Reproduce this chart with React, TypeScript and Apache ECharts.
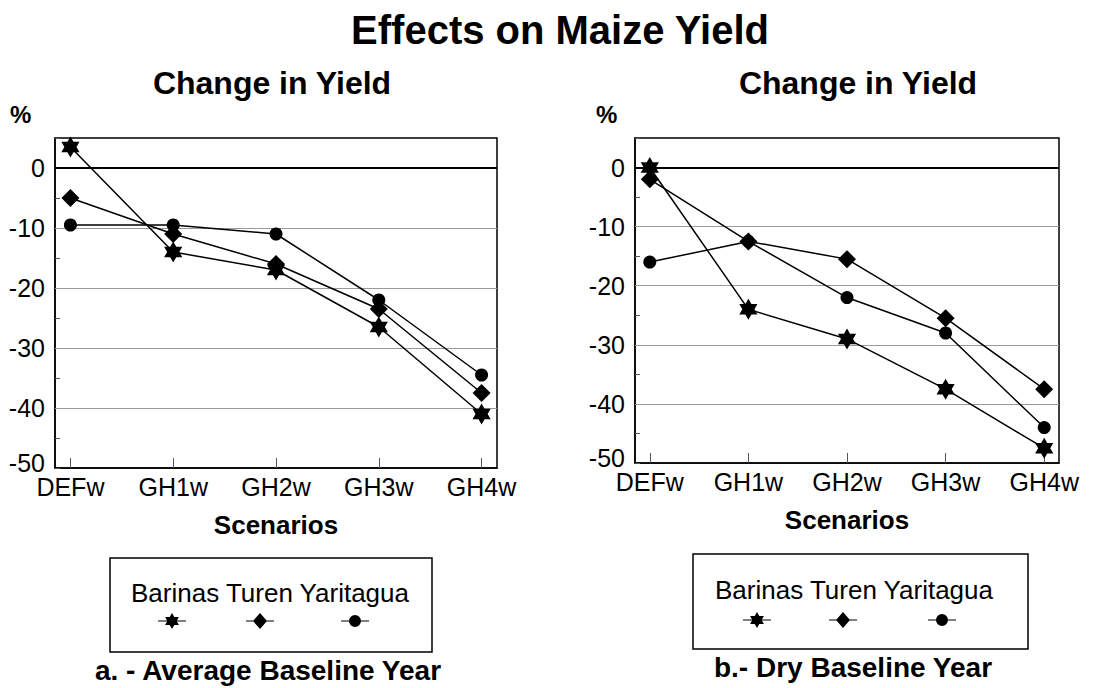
import React, { useEffect, useRef } from "react";
import * as echarts from "echarts";

const categories = ["DEFw", "GH1w", "GH2w", "GH3w", "GH4w"];
const seriesNames = ["Barinas", "Turen", "Yaritagua"];

const avgBarinas = [3.5, -14, -17, -26.5, -41];
const avgTuren = [-5, -11, -16, -23.5, -37.5];
const avgYaritagua = [-9.5, -9.5, -11, -22, -34.5];

const dryBarinas = [0, -24, -29, -37.5, -47.5];
const dryTuren = [-2, -12.5, -15.5, -25.5, -37.5];
const dryYaritagua = [-16, -12.5, -22, -28, -44];

const yTickValues = [-50, -40, -30, -20, -10, 0];
const gridLineValues = [-40, -30, -20, -10];

const FONT = "'Liberation Sans', Arial, Helvetica, sans-serif";
const STAR =
  "path://M10,0 L12.89,5 L18.66,5 L15.77,10 L18.66,15 L12.89,15 L10,20 L7.11,15 L1.34,15 L4.23,10 L1.34,5 L7.11,5 Z";

const symbols: Record<string, any> = {
  Barinas: { symbol: STAR, size: 21 },
  Turen: { symbol: "diamond", size: 18 },
  Yaritagua: { symbol: "circle", size: 13 },
};

// legend icons: short line with the marker in the middle
const legendIcons: Record<string, { icon: string; h: number }> = {
  Barinas: {
    icon:
      "path://M0,7.4 L28,7.4 L28,8.6 L0,8.6 Z M14,0 L16.31,4 L20.93,4 L18.62,8 L20.93,12 L16.31,12 L14,16 L11.69,12 L7.07,12 L9.38,8 L7.07,4 L11.69,4 Z",
    h: 16,
  },
  Turen: {
    icon: "path://M0,7.4 L28,7.4 L28,8.6 L0,8.6 Z M14,0 L21,8 L14,16 L7,8 Z",
    h: 16,
  },
  Yaritagua: {
    icon: "path://M0,5.4 L28,5.4 L28,6.6 L0,6.6 Z M8,6 A6,6 0 1 1 20,6 A6,6 0 1 1 8,6 Z",
    h: 12,
  },
};

function toPairs(vals: number[]) {
  return vals.map((v, i) => [i, v]);
}

function makeAxes(idx: number) {
  const xAxis = {
    type: "value",
    gridIndex: idx,
    min: -0.15,
    max: 4.15,
    name: "Scenarios",
    nameLocation: "middle",
    nameGap: 44,
    nameTextStyle: { fontSize: 26, fontWeight: "bold", color: "#000", fontFamily: FONT },
    axisLine: { show: true, onZero: false, lineStyle: { color: "#000", width: 1.5 } },
    axisTick: {
      show: true,
      inside: true,
      length: 10,
      customValues: [0, 1, 2, 3, 4],
      lineStyle: { color: "#555", width: 1 },
    },
    axisLabel: {
      customValues: [0, 1, 2, 3, 4],
      formatter: (v: number) => categories[Math.round(v)] ?? "",
      fontSize: 25,
      color: "#000",
      fontFamily: FONT,
      margin: 6,
    },
    splitLine: { show: false },
  };
  const yAxis = {
    type: "value",
    gridIndex: idx,
    min: -50,
    max: 5,
    interval: 10,
    axisLine: { show: true, onZero: false, lineStyle: { color: "#000", width: 1.5 } },
    axisTick: { show: true, inside: true, length: 5, lineStyle: { color: "#555" } },
    minorTick: { show: true, splitNumber: 2, length: 5, lineStyle: { color: "#555" } },
    axisLabel: {
      customValues: yTickValues,
      formatter: (v: number) => (v === -50 ? "{low|-50}" : String(v)),
      fontSize: 25,
      color: "#000",
      fontFamily: FONT,
      margin: 10,
      rich: { low: { fontSize: 25, fontFamily: FONT, color: "#000", padding: [0, 0, 10, 0] } },
    },
    splitLine: { show: false },
  };
  return { xAxis, yAxis };
}

function makeSeries(idx: number, data: number[][]) {
  return seriesNames.map((name, k) => {
    const s: any = {
      name,
      type: "line",
      xAxisIndex: idx,
      yAxisIndex: idx,
      data: toPairs(data[k]),
      symbol: symbols[name].symbol,
      symbolSize: symbols[name].size,
      symbolKeepAspect: true,
      itemStyle: { color: "#000" },
      lineStyle: { color: "#000", width: 1.5 },
      z: 5,
    };
    if (k === 0) {
      s.markLine = {
        silent: true,
        symbol: "none",
        label: { show: false },
        z: 2,
        data: [
          ...gridLineValues.map((v) => ({ yAxis: v, lineStyle: { color: "#9a9a9a", width: 1, type: "solid" } })),
          { yAxis: 0, lineStyle: { color: "#000", width: 1.8, type: "solid" } },
        ],
      };
    }
    return s;
  });
}

export default function App() {
  const ref = useRef<HTMLDivElement>(null);
  useEffect(() => {
    if (!ref.current) return;
    const chart = echarts.init(ref.current, undefined, { renderer: "svg" });
    const a0 = makeAxes(0);
    const a1 = makeAxes(1);

    const legendPositions = [
      { x: 172, y: 621 },
      { x: 260, y: 621 },
      { x: 355, y: 621 },
      { x: 757, y: 620 },
      { x: 843, y: 620 },
      { x: 942, y: 620 },
    ];
    const legends = legendPositions.map((p, i) => {
      const name = seriesNames[i % 3];
      const li = legendIcons[name];
      return {
        data: [{ name, icon: li.icon }],
        left: p.x - 14,
        top: p.y - li.h / 2,
        itemWidth: 28,
        itemHeight: li.h,
        itemGap: 0,
        selectedMode: false,
        formatter: () => "",
        textStyle: { fontSize: 1 },
        itemStyle: { color: "#000" },
        padding: 0,
      };
    });

    const option: any = {
      animation: false,
      backgroundColor: "#fff",
      textStyle: { fontFamily: FONT },
      title: [
        {
          text: "Effects on Maize Yield",
          left: "center",
          top: 5,
          textStyle: { fontSize: 40, fontWeight: "bold", color: "#000", fontFamily: FONT },
        },
        {
          text: "Change in Yield",
          left: 267,
          textAlign: "center",
          top: 62,
          textStyle: { fontSize: 32, fontWeight: "bold", color: "#000", fontFamily: FONT },
        },
        {
          text: "Change in Yield",
          left: 853,
          textAlign: "center",
          top: 62,
          textStyle: { fontSize: 32, fontWeight: "bold", color: "#000", fontFamily: FONT },
        },
      ],
      legend: legends,
      grid: [
        { left: 55, top: 138, width: 442, height: 330, show: true, borderColor: "#000", borderWidth: 1.5, backgroundColor: "transparent" },
        { left: 635, top: 138, width: 424, height: 325, show: true, borderColor: "#000", borderWidth: 1.5, backgroundColor: "transparent" },
      ],
      xAxis: [a0.xAxis, a1.xAxis],
      yAxis: [a0.yAxis, a1.yAxis],
      series: [
        ...makeSeries(0, [avgBarinas, avgTuren, avgYaritagua]),
        ...makeSeries(1, [dryBarinas, dryTuren, dryYaritagua]),
      ],
      graphic: [
        { type: "text", x: 10, y: 102, style: { text: "%", fontSize: 24, fontWeight: "bold", fill: "#000", fontFamily: FONT } },
        { type: "text", x: 596, y: 102, style: { text: "%", fontSize: 24, fontWeight: "bold", fill: "#000", fontFamily: FONT } },
        { type: "rect", shape: { x: 110, y: 558, width: 322, height: 94 }, style: { fill: "none", stroke: "#000", lineWidth: 1.5 } },
        { type: "rect", shape: { x: 693, y: 554, width: 335, height: 95 }, style: { fill: "none", stroke: "#000", lineWidth: 1.5 } },
        {
          type: "text",
          x: 270,
          y: 593,
          style: { text: "Barinas Turen Yaritagua", fontSize: 26, fill: "#000", fontFamily: FONT, textAlign: "center", textVerticalAlign: "middle" },
        },
        {
          type: "text",
          x: 854,
          y: 590,
          style: { text: "Barinas Turen Yaritagua", fontSize: 26, fill: "#000", fontFamily: FONT, textAlign: "center", textVerticalAlign: "middle" },
        },
        {
          type: "text",
          x: 268,
          y: 670,
          style: { text: "a. - Average Baseline Year", fontSize: 28, fontWeight: "bold", fill: "#000", fontFamily: FONT, textAlign: "center", textVerticalAlign: "middle" },
        },
        {
          type: "text",
          x: 853,
          y: 667,
          style: { text: "b.- Dry Baseline Year", fontSize: 28, fontWeight: "bold", fill: "#000", fontFamily: FONT, textAlign: "center", textVerticalAlign: "middle" },
        },
      ],
    };
    chart.setOption(option);
    return () => chart.dispose();
  }, []);
  return (
    <div
      ref={ref}
      style={{ position: "fixed", left: 0, top: 0, width: 1120, height: 688, background: "#fff" }}
    />
  );
}
